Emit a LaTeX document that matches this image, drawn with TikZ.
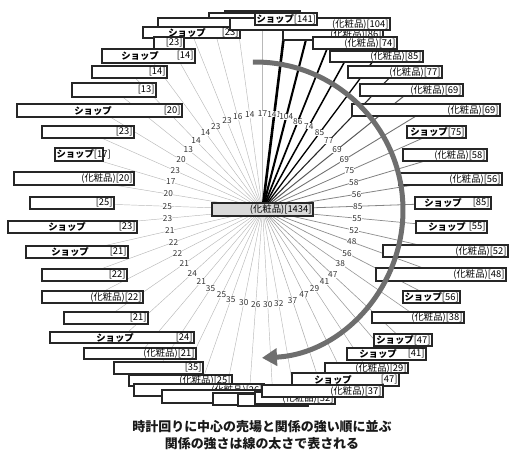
\documentclass[tikz,border=0pt]{standalone}
\usepackage{fontspec}
\newfontfamily\jp{Noto Sans CJK JP}
\usetikzlibrary{arrows.meta,backgrounds}
\definecolor{arcgray}{HTML}{6E6E6E}
\tikzset{
  bx/.style={draw=black!85, line width=1.2bp, fill=white, inner sep=0pt, outer sep=0pt,
    font=\jp\fontsize{9.4}{10}\selectfont, align=right},
  shop/.style={inner sep=0pt, font=\jp\bfseries\fontsize{9.4}{10}\selectfont},
  lab/.style={fill=white, inner sep=0pt, font=\jp\fontsize{8.3}{9}\selectfont, text=black!80},
  captext/.style={inner sep=0pt, font=\jp\bfseries\fontsize{13}{15}\selectfont, text=black!90},
}
\newcommand\JBox[6]{%
  \pgfmathsetmacro\jbw{#4-#2}\pgfmathsetmacro\jbh{#5-#3}\pgfmathsetmacro\jtw{#4-#2-3}%
  \pgfmathsetmacro\jcx{(#2+#4)/2}\pgfmathsetmacro\jcy{(#3+#5)/2}%
  \node[bx, minimum width=\jbw bp, minimum height=\jbh bp, text width=\jtw bp] (#1) at (\jcx,\jcy) {#6};}
\newcommand\SH{{\bfseries ショップ}}
\begin{document}
\begin{tikzpicture}[x=1bp,y=-1bp]
\useasboundingbox (0,0) rectangle (510,453);
% centre
\node[bx, fill=black!15, line width=1.4bp, minimum width=101bp, minimum height=13bp, text width=98bp] (Cc) at (262.5,209.5) {(化粧品)[1434]};
% top-left cluster and left side (back to front)
\JBox{b48}{225}{11}{300}{26}{}
\JBox{b47}{209}{13}{265}{28}{}
\JBox{b46}{158}{18}{268}{30}{}
\JBox{b45}{143}{27}{240}{38}{[23]}
\node[shop] (s45) at (187,32.5) {ショップ};
\JBox{b44}{154}{37}{184}{49}{[23]}
\JBox{b43}{102}{49}{195}{63}{[14]}
\node[shop] (s43) at (140,56) {ショップ};
\JBox{b42}{92}{66}{167}{78}{[14]}
\JBox{b41}{72}{83}{156}{97}{[13]}
\JBox{b40}{17}{104}{182}{117}{[20]}
\node[shop] (s40) at (93,110.5) {ショップ};
\JBox{b39}{42}{126}{134}{138}{[23]}
\JBox{b38}{55}{148}{103}{161}{\SH[17]}
\JBox{b37}{14}{172}{134}{185}{(化粧品)[20]}
\JBox{b36}{30}{197}{114}{209}{[25]}
\JBox{b35}{8}{221}{137}{233}{[23]}
\node[shop] (s35) at (67,227) {ショップ};
\JBox{b34}{26}{246}{128}{258}{[21]}
\node[shop] (s34) at (70,252) {ショップ};
\JBox{b33}{42}{269}{127}{281}{[22]}
\JBox{b32}{42}{291}{143}{303}{(化粧品)[22]}
\JBox{b31}{64}{312}{148}{324}{[21]}
\JBox{b30}{50}{332}{194}{343}{[24]}
\node[shop] (s30) at (115,337.5) {ショップ};
\JBox{b29}{84}{348}{196}{359}{(化粧品)[21]}
\JBox{b28}{114}{362}{203}{374}{[35]}
\JBox{b27}{129}{375}{232}{386}{(化粧品)[25]}
\JBox{b26}{134}{384}{264}{396}{(化粧品)[26]}
\JBox{b25}{162}{390}{288}{403}{}
\JBox{b24}{213}{393}{285}{405}{}
\JBox{b23}{238}{394}{308}{406}{}
\JBox{b22}{255}{392}{335}{404}{(化粧品)[32]}
% top-right and right side
\JBox{b2}{283}{28}{383}{40}{(化粧品)[86]}
\JBox{b1}{230}{18}{390}{30}{(化粧品)[104]}
\JBox{b0}{255}{13}{317}{25}{\SH[141]}
\JBox{b3}{313}{37}{397}{49}{(化粧品)[74]}
\JBox{b4}{330}{51}{423}{62}{(化粧品)[85]}
\JBox{b5}{348}{66}{442}{78}{(化粧品)[77]}
\JBox{b6}{360}{84}{463}{96}{(化粧品)[69]}
\JBox{b7}{352}{104}{500}{116}{(化粧品)[69]}
\JBox{b8}{407}{126}{466}{138}{\SH[75]}
\JBox{b9}{403}{149}{487}{161}{(化粧品)[58]}
\JBox{b10}{399}{173}{502}{185}{(化粧品)[56]}
\JBox{b11}{415}{197}{491}{209}{[85]}
\node[shop] (s11) at (443,203) {ショップ};
\JBox{b12}{416}{221}{487}{233}{[55]}
\node[shop] (s12) at (447,227) {ショップ};
\JBox{b13}{383}{245}{508}{257}{(化粧品)[52]}
\JBox{b14}{376}{268}{506}{281}{(化粧品)[48]}
\JBox{b15}{403}{291}{460}{303}{\SH[56]}
\JBox{b16}{372}{312}{464}{323}{(化粧品)[38]}
\JBox{b17}{374}{334}{432}{346}{\SH[47]}
\JBox{b18}{347}{348}{426}{360}{[41]}
\node[shop] (s18) at (378,354) {ショップ};
\JBox{b19}{325}{363}{408}{373}{(化粧品)[29]}
\JBox{b20}{292}{373}{399}{386}{[47]}
\node[shop] (s20) at (333,379.5) {ショップ};
\JBox{b21}{262}{385}{383}{397}{(化粧品)[37]}
% spokes
\begin{scope}[on background layer]
\foreach \i/\w/\c in {22/0.45/black!28,23/0.45/black!28,24/0.45/black!28,25/0.45/black!28,26/0.45/black!28,
  27/0.45/black!28,28/0.45/black!28,29/0.45/black!28,30/0.45/black!28,31/0.45/black!28,32/0.45/black!28,
  33/0.45/black!28,34/0.45/black!28,35/0.45/black!28,36/0.45/black!28,37/0.45/black!28,38/0.45/black!28,
  39/0.45/black!28,40/0.45/black!28,41/0.45/black!28,42/0.45/black!28,43/0.45/black!28,44/0.45/black!28,
  45/0.45/black!28,46/0.45/black!28,47/0.45/black!28,48/0.45/black!28,
  21/0.5/black!33,20/0.5/black!35,19/0.5/black!35,18/0.6/black!38,17/0.6/black!40,16/0.6/black!40,
  15/0.7/black!42,14/0.7/black!45,13/0.7/black!45,12/0.7/black!45,11/0.8/black!48,10/0.8/black!48,
  9/0.8/black!50,8/0.8/black!50,7/0.9/black!55,6/1.0/black!65,5/1.1/black!85,4/1.3/black,
  3/1.5/black,2/1.7/black,1/2.1/black,0/2.6/black}
  \draw[line width=\w bp, draw=\c] (Cc.center) -- (b\i.center);
\end{scope}
% spoke labels
\foreach \i/\v in {0/141,1/104,2/86,3/74,4/85,5/77,6/69,7/69,8/75,9/58,10/56,11/85,12/55,13/52,
  14/48,15/56,16/38,17/47,18/41,19/29,20/47,21/37,22/32,23/30,24/26,25/30,26/35,27/25,28/35,
  29/21,30/24,31/21,32/22,33/22,34/21,35/23,36/25,37/20,38/17,39/23,40/20,41/13,42/14,43/14,
  44/23,45/23,46/16,47/14,48/17}
  \path (Cc.center) -- (b\i.center) node[midway, lab] (l\i) {\v};
% arc arrow
\draw[line width=5bp, draw=arcgray, -{Triangle[length=15bp,width=17bp]}]
  (255,210) ++(-90.8:148) arc[start angle=-90.8, end angle=87.3, radius=148];
% caption
\node[captext] (t1) at (262,427) {時計回りに中心の売場と関係の強い順に並ぶ};
\node[captext] (t2) at (262,444) {関係の強さは線の太さで表される};
\end{tikzpicture}
\end{document}
